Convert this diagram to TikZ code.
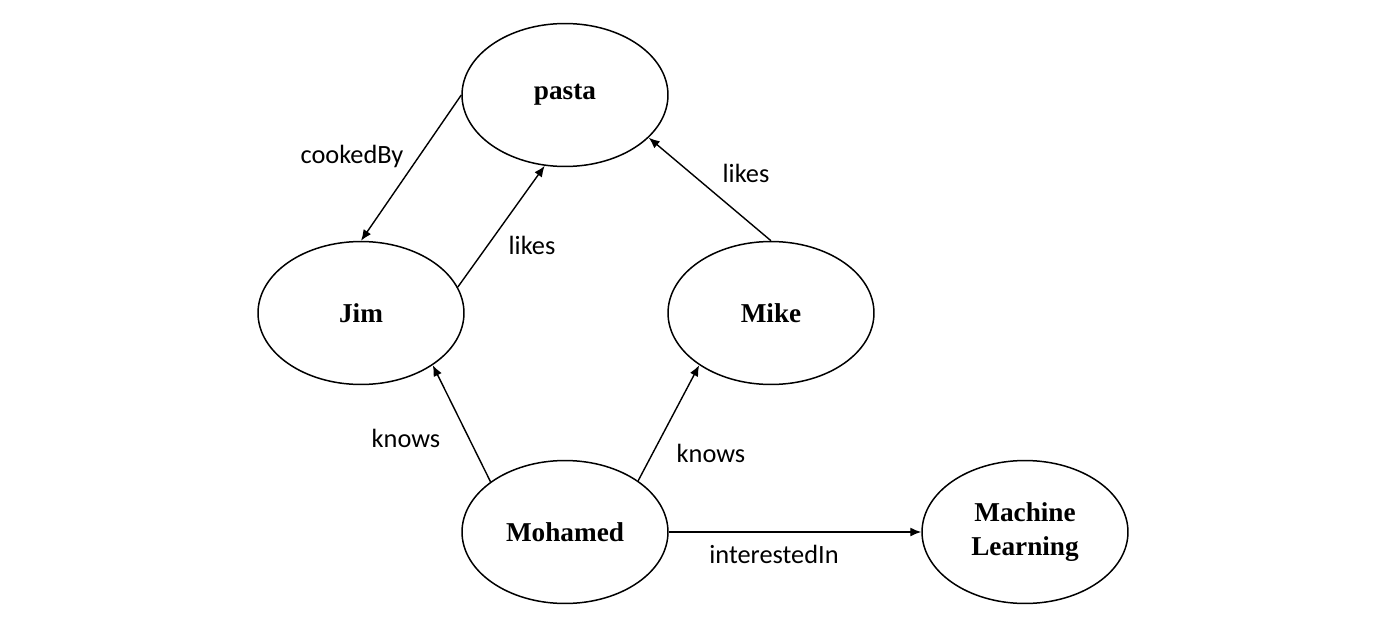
\documentclass[tikz,border=0pt]{standalone}
\usepackage{fontspec}
\setmainfont{Liberation Serif}
\newfontfamily\lblfont{Carlito}
\usetikzlibrary{shapes.geometric}
\usetikzlibrary{arrows.meta}
\usetikzlibrary{positioning}
\tikzstyle{entnode} = [draw, ellipse, line width=0.85pt, minimum width=4.12cm, minimum height=2.86cm, inner sep=0pt, align=center, font=\fontsize{15.5}{19}\selectfont\bfseries]
\tikzstyle{relnode} = [font=\fontsize{15}{18}\selectfont\lblfont, inner sep=0pt]
\tikzstyle{rel} = [line width=0.8pt, -{Latex[length=2.2mm, width=1.8mm]}]

\begin{document}
\begin{tikzpicture}[x=0.02cm, y=-0.02cm]
  \useasboundingbox (0,0) rectangle (1400,622);
  \node[entnode] (pasta) at (565,95) {pasta};
  \node[entnode] (jim) at (361,313) {Jim};
  \node[entnode] (mike) at (771,313) {Mike};
  \node[entnode] (mohamed) at (565,532) {Mohamed};
  \node[entnode] (ml) at (1025,532) {Machine\\Learning};

  \node[relnode] (l_cooked) at (352,156) {cookedBy};
  \node[relnode] (l_likes1) at (532,245) {likes};
  \node[relnode] (l_likes2) at (746,173) {likes};
  \node[relnode] (l_knows1) at (406,438) {knows};
  \node[relnode] (l_knows2) at (711,453) {knows};
  \node[relnode] (l_interest) at (774,554) {interestedIn};

  \draw[rel] (pasta.west) -- (jim.north);
  \draw[rel] (jim.15) -- (pasta.254);
  \draw[rel] (mike.north) -- (pasta.333);
  \draw[rel] (mohamed.146) -- (jim.324);
  \draw[rel] (mohamed.35) -- (mike.216);
  \draw[rel] (mohamed.east) -- (ml.west);
\end{tikzpicture}
\end{document}
